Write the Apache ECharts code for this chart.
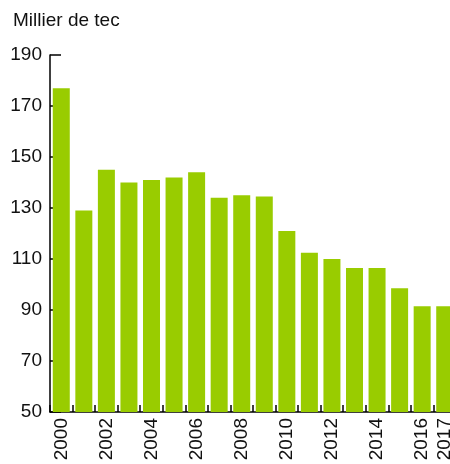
<!DOCTYPE html>
<html>
<head>
<meta charset="utf-8">
<script src="https://cdn.jsdelivr.net/npm/echarts@6/dist/echarts.min.js"></script>
<style>
html, body { margin: 0; padding: 0; background: #fff; }
#container { width: 450px; height: 464px; }
</style>
</head>
<body>
<div id="container"></div>
<script>
var years = ['2000', '2001', '2002', '2003', '2004', '2005', '2006', '2007', '2008',
    '2009', '2010', '2011', '2012', '2013', '2014', '2015', '2016', '2017'];
var values = [177, 129, 145, 140, 141, 142, 144, 134, 135, 134.5, 121, 112.5, 110, 106.5, 106.5, 98.5, 91.5, 91.5];
var yTicks = [50, 190, 20]; // min, max, interval

var dom = document.getElementById("container");
var myChart = echarts.init(dom);
var textColor = '#111';

var option = {
    animation: false,
    title: {
        text: 'Millier de tec',
        left: 8,
        top: 6,
        textStyle: {
            fontFamily: 'Liberation Sans',
            fontSize: 19,
            fontWeight: 'normal',
            color: textColor
        }
    },
    grid: {
        left: 50,
        width: 406, // last bar is cut by the right edge
        top: 55,
        bottom: 52,
        containLabel: false,
        outerBoundsMode: 'none'
    },
    xAxis: {
        type: 'category',
        data: years,
        axisLine: { lineStyle: { color: '#000', width: 1.5 } },
        axisTick: {
            show: true,
            inside: true,
            length: 7,
            interval: 0,
            lineStyle: { color: '#000', width: 1.5 }
        },
        axisLabel: {
            rotate: 90,
            margin: 6,
            interval: function (i) {
                return i % 2 === 0 || i === years.length - 1;
            },
            fontFamily: 'Liberation Sans',
            fontSize: 19,
            color: textColor
        }
    },
    yAxis: {
        type: 'value',
        min: yTicks[0],
        max: yTicks[1],
        interval: yTicks[2],
        splitLine: { show: false },
        axisLine: { show: true, lineStyle: { color: '#000', width: 1.5 } },
        axisTick: {
            show: true,
            inside: true,
            length: 11,
            lineStyle: { color: '#000', width: 1.5 }
        },
        axisLabel: {
            margin: 8,
            fontFamily: 'Liberation Sans',
            fontSize: 19,
            color: textColor
        }
    },
    series: [{
        type: 'bar',
        data: values,
        barWidth: 17,
        itemStyle: { color: '#99cc00' }
    }]
};
myChart.setOption(option);
</script>
</body>
</html>
